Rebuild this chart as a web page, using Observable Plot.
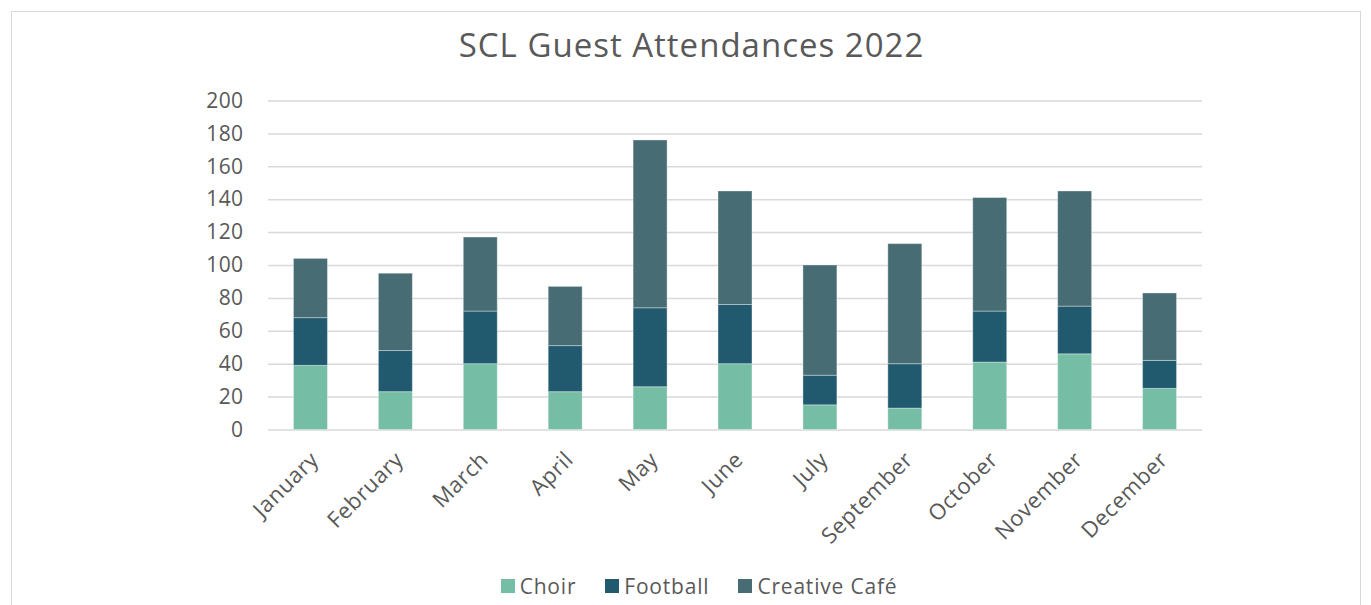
<!DOCTYPE html>
<html>
<head>
<meta charset="utf-8">
<script src="https://cdn.jsdelivr.net/npm/d3@7"></script>
<script src="https://cdn.jsdelivr.net/npm/@observablehq/plot@0.6"></script>
<style>
  html, body { margin: 0; padding: 0; background: #fff; }
  body { width: 1371px; height: 605px; overflow: hidden; position: relative; font-family: "Open Sans", Lato, sans-serif; }
  #frame { position: absolute; left: 11px; top: 11px; width: 1348px; height: 600px; border: 1px solid #d9d9d9; border-bottom: none; }
  #title { position: absolute; left: 0; top: 20px; width: 1383px; text-align: center; font-size: 33px; letter-spacing: 1px; line-height: 50px; color: #595959; }
  #chart { position: absolute; left: 0; top: 80px; }
  #legend { position: absolute; left: 0; top: 571px; width: 1398px; display: flex; justify-content: center; gap: 29px; font-size: 21px; letter-spacing: 0.8px; line-height: 30px; color: #595959; }
  .item { display: flex; align-items: center; gap: 5px; }
  .sw { width: 14px; height: 14px; display: inline-block; }
  [aria-label="x-axis tick label"] text { letter-spacing: 0.6px; }
  [aria-label="y-axis tick label"] text { letter-spacing: 0.4px; }
</style>
</head>
<body>
<div id="frame"></div>
<div id="title">SCL Guest Attendances 2022</div>
<div id="chart"></div>
<div id="legend"></div>
<script>
const months = ["January","February","March","April","May","June","July","September","October","November","December"];
const choir = [39, 23, 40, 23, 26, 40, 15, 13, 41, 46, 25];
const football = [29, 25, 32, 28, 48, 36, 18, 27, 31, 29, 17];
const creativeCafe = [36, 47, 45, 36, 102, 69, 67, 73, 69, 70, 41];
const seriesNames = ["Choir", "Football", "Creative Café"];
const seriesColors = ["#76bda6", "#215a6e", "#476c74"];
const yTicks = [0, 20, 40, 60, 80, 100, 120, 140, 160, 180, 200];

const seriesValues = [choir, football, creativeCafe];
const rows = [];
seriesNames.forEach((s, si) => months.forEach((m, mi) => rows.push({month: m, series: s, value: seriesValues[si][mi]})));

const plot = Plot.plot({
  width: 1371,
  height: 480,
  marginLeft: 268,
  marginRight: 169,
  marginTop: 20.5,
  marginBottom: 130.5,
  style: {fontFamily: "'Open Sans', Lato, sans-serif", fontSize: "21px", color: "#595959", background: "transparent"},
  x: {domain: months, paddingInner: 0.6, paddingOuter: 0.3, round: false},
  y: {domain: [0, 200]},
  color: {domain: seriesNames, range: seriesColors},
  marks: [
    Plot.gridY(yTicks, {stroke: "#d9d9d9", strokeOpacity: 1, strokeWidth: 1.5}),
    Plot.barY(rows, {x: "month", y: "value", fill: "series", stroke: "#ffffff", strokeOpacity: 0.35, strokeWidth: 1, order: seriesNames}),
    Plot.axisY({ticks: yTicks, tickSize: 0, tickPadding: 25, label: null, fill: "#595959"}),
    Plot.axisX({tickSize: 0, tickRotate: -45, tickPadding: 26, label: null, fill: "#595959", fontSize: 22, dx: 4})
  ]
});
document.getElementById("chart").appendChild(plot);

const legend = document.getElementById("legend");
seriesNames.forEach((s, i) => {
  const it = document.createElement("div");
  it.className = "item";
  const sw = document.createElement("span");
  sw.className = "sw";
  sw.style.background = seriesColors[i];
  const t = document.createElement("span");
  t.textContent = s;
  it.appendChild(sw); it.appendChild(t);
  legend.appendChild(it);
});
</script>
</body>
</html>
